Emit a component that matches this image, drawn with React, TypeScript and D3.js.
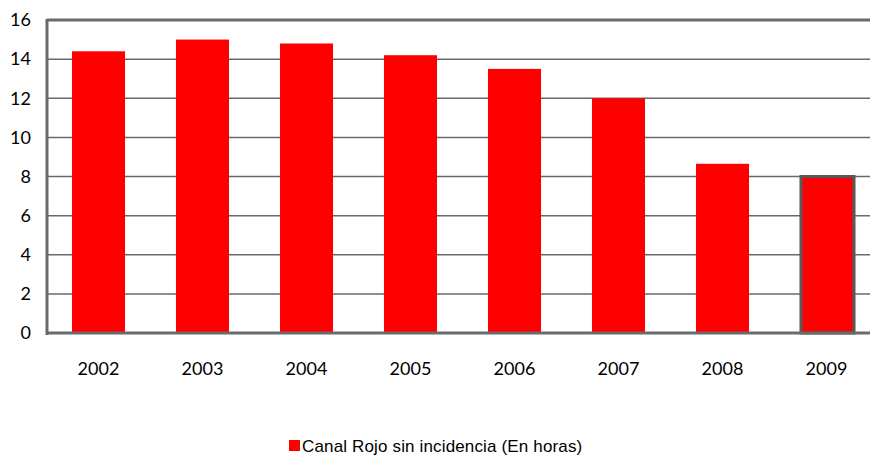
import React from "react";
import * as d3 from "d3";

const years = ["2002", "2003", "2004", "2005", "2006", "2007", "2008", "2009"];
const values = [14.4, 15.0, 14.8, 14.2, 13.5, 12.0, 8.65, 8.0];
const yTicks = [0, 2, 4, 6, 8, 10, 12, 14, 16];
const legendLabel = "Canal Rojo sin incidencia (En horas)";

export default function App() {
  const W = 870, H = 457;
  const x = d3.scaleBand<string>().domain(years).range([46.5, 878.5]).paddingInner(0.49).paddingOuter(0.245);
  const y = d3.scaleLinear().domain([0, 16]).range([333, 20]);
  const font = "Lato, 'Open Sans', sans-serif";
  return (
    <svg width={W} height={H} style={{ position: "absolute", left: 0, top: 0, background: "#fff" }}>
      {yTicks.filter(t => t > 0 && t < 16).map(t => (
        <line key={t} x1={47} x2={W} y1={y(t)} y2={y(t)} stroke="#6a6a6a" strokeWidth={1.5} />
      ))}
      {years.map((yr, i) => {
        const last = i === years.length - 1;
        return (
          <rect key={yr} x={x(yr)! + (last ? 1 : 0)} width={x.bandwidth()}
            y={y(values[i])} height={y(0) - y(values[i])} fill="#ff0000"
            stroke={last ? "#595959" : "none"} strokeWidth={last ? 3 : 0} />
        );
      })}
      <line x1={47} x2={W} y1={20} y2={20} stroke="#6a6a6a" strokeWidth={3} />
      <line x1={47} x2={47} y1={19} y2={335} stroke="#6a6a6a" strokeWidth={3} />
      <line x1={46} x2={W} y1={333} y2={333} stroke="#6a6a6a" strokeWidth={3} />
      {yTicks.map(t => (
        <text key={t} x={31} y={y(t)} dy="0.35em" textAnchor="end" fontFamily={font} fontSize={18} fill="#000">{t}</text>
      ))}
      {years.map(yr => (
        <text key={yr} x={x(yr)! + x.bandwidth() / 2} y={375} textAnchor="middle" fontFamily={font} fontSize={18} fill="#000">{yr}</text>
      ))}
      <rect x={289} y={440} width={11} height={11} fill="#ff0000" />
      <text x={302} y={452} fontFamily="'Liberation Sans', Arial, sans-serif" fontSize={17} letterSpacing={0.15} fill="#000">{legendLabel}</text>
    </svg>
  );
}
